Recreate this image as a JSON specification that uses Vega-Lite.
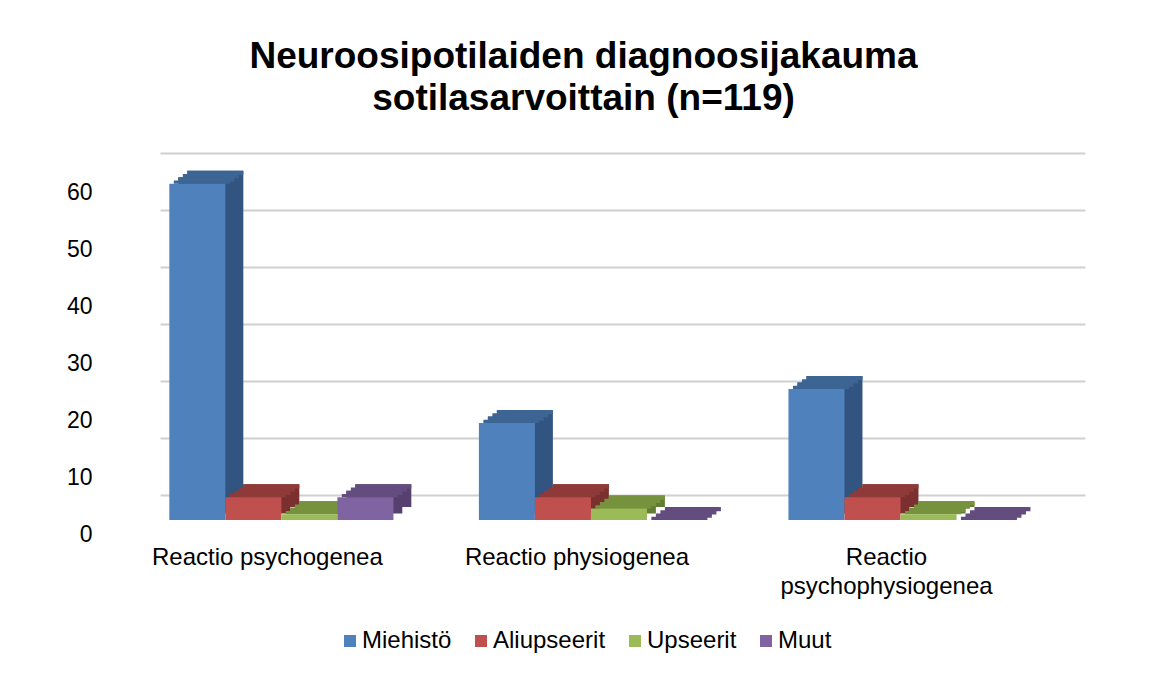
{
  "$schema": "https://vega.github.io/schema/vega-lite/v6.json",
  "width": 925,
  "height": 342,
  "autosize": {"type": "none"},
  "padding": {"left": 160, "top": 153, "right": 64, "bottom": 180},
  "background": "white",
  "title": {
    "text": ["Neuroosipotilaiden diagnoosijakauma", "sotilasarvoittain (n=119)"],
    "fontSize": 37,
    "font": "Liberation Sans",
    "fontWeight": "bold",
    "color": "#000000",
    "lineHeight": 42,
    "anchor": "middle",
    "dx": -39,
    "offset": 35
  },
  "data": {
    "values": [
      {"diagnoosi": "Reactio psychogenea", "arvo": "Miehistö", "lukumaara": 59},
      {"diagnoosi": "Reactio psychogenea", "arvo": "Aliupseerit", "lukumaara": 4},
      {"diagnoosi": "Reactio psychogenea", "arvo": "Upseerit", "lukumaara": 1},
      {"diagnoosi": "Reactio psychogenea", "arvo": "Muut", "lukumaara": 4},
      {"diagnoosi": "Reactio physiogenea", "arvo": "Miehistö", "lukumaara": 17},
      {"diagnoosi": "Reactio physiogenea", "arvo": "Aliupseerit", "lukumaara": 4},
      {"diagnoosi": "Reactio physiogenea", "arvo": "Upseerit", "lukumaara": 2},
      {"diagnoosi": "Reactio physiogenea", "arvo": "Muut", "lukumaara": 0},
      {"diagnoosi": "Reactio psychophysiogenea", "arvo": "Miehistö", "lukumaara": 23},
      {"diagnoosi": "Reactio psychophysiogenea", "arvo": "Aliupseerit", "lukumaara": 4},
      {"diagnoosi": "Reactio psychophysiogenea", "arvo": "Upseerit", "lukumaara": 1},
      {"diagnoosi": "Reactio psychophysiogenea", "arvo": "Muut", "lukumaara": 0}
    ]
  },
  "encoding": {
    "x": {
      "field": "diagnoosi",
      "type": "nominal",
      "sort": ["Reactio psychogenea", "Reactio physiogenea", "Reactio psychophysiogenea"],
      "scale": {"paddingInner": 0.276, "paddingOuter": 0.132, "align": 0.114},
      "axis": {
        "title": null,
        "domain": false,
        "ticks": false,
        "labelAngle": 0,
        "labelPadding": 50,
        "labelOffset": -14,
        "labelFontSize": 24,
        "labelLineHeight": 29,
        "labelLimit": 500,
        "labelColor": "#000000",
        "labelFont": "Liberation Sans",
        "labelExpr": "length(datum.label) > 20 ? split(datum.label, ' ') : datum.label"
      }
    },
    "y": {
      "field": "lukumaara",
      "type": "quantitative",
      "stack": null,
      "scale": {"domain": [0, 60], "nice": false},
      "axis": {
        "title": null,
        "domain": false,
        "ticks": false,
        "values": [0, 10, 20, 30, 40, 50, 60],
        "grid": true,
        "gridColor": "#D0D0D0",
        "gridWidth": 2,
        "labelPadding": 68,
        "labelOffset": 39,
        "labelFontSize": 23,
        "labelColor": "#000000",
        "labelFont": "Liberation Sans"
      }
    }
  },
  "layer": [
    {
      "mark": {"type": "bar", "yOffset": 18.5, "y2Offset": 18.5},
      "encoding": {
        "y2": {"datum": 0},
        "xOffset": {"field": "arvo", "type": "nominal", "sort": ["Miehistö", "Aliupseerit", "Upseerit", "Muut"], "scale": {"range": [9, 233]}},
        "color": {"field": "arvo", "type": "nominal", "scale": {"domain": ["Miehistö", "Aliupseerit", "Upseerit", "Muut"], "range": ["#325480", "#7B2F2E", "#637C33", "#56406F"]}, "legend": null}
      }
    },
    {
      "mark": {"type": "bar", "yOffset": 12, "y2Offset": 12},
      "encoding": {
        "y2": {"datum": 0},
        "xOffset": {"field": "arvo", "type": "nominal", "sort": ["Miehistö", "Aliupseerit", "Upseerit", "Muut"], "scale": {"range": [18, 242]}},
        "color": {"field": "arvo", "type": "nominal", "scale": {"domain": ["Miehistö", "Aliupseerit", "Upseerit", "Muut"], "range": ["#325480", "#7B2F2E", "#637C33", "#56406F"]}, "legend": null}
      }
    },
    {
      "mark": {"type": "bar", "yOffset": 12, "y2Offset": 16.25},
      "encoding": {
        "y2": {"field": "lukumaara"},
        "xOffset": {"field": "arvo", "type": "nominal", "sort": ["Miehistö", "Aliupseerit", "Upseerit", "Muut"], "scale": {"range": [18, 242]}},
        "color": {"field": "arvo", "type": "nominal", "scale": {"domain": ["Miehistö", "Aliupseerit", "Upseerit", "Muut"], "range": ["#3D6594", "#8E3A39", "#76923C", "#634C7E"]}, "legend": null}
      }
    },
    {
      "mark": {"type": "bar", "yOffset": 15.25, "y2Offset": 19.5},
      "encoding": {
        "y2": {"field": "lukumaara"},
        "xOffset": {"field": "arvo", "type": "nominal", "sort": ["Miehistö", "Aliupseerit", "Upseerit", "Muut"], "scale": {"range": [13.5, 237.5]}},
        "color": {"field": "arvo", "type": "nominal", "scale": {"domain": ["Miehistö", "Aliupseerit", "Upseerit", "Muut"], "range": ["#3D6594", "#8E3A39", "#76923C", "#634C7E"]}, "legend": null}
      }
    },
    {
      "mark": {"type": "bar", "yOffset": 18.5, "y2Offset": 22.75},
      "encoding": {
        "y2": {"field": "lukumaara"},
        "xOffset": {"field": "arvo", "type": "nominal", "sort": ["Miehistö", "Aliupseerit", "Upseerit", "Muut"], "scale": {"range": [9, 233]}},
        "color": {"field": "arvo", "type": "nominal", "scale": {"domain": ["Miehistö", "Aliupseerit", "Upseerit", "Muut"], "range": ["#3D6594", "#8E3A39", "#76923C", "#634C7E"]}, "legend": null}
      }
    },
    {
      "mark": {"type": "bar", "yOffset": 21.75, "y2Offset": 25},
      "encoding": {
        "y2": {"field": "lukumaara"},
        "xOffset": {"field": "arvo", "type": "nominal", "sort": ["Miehistö", "Aliupseerit", "Upseerit", "Muut"], "scale": {"range": [4.5, 228.5]}},
        "color": {"field": "arvo", "type": "nominal", "scale": {"domain": ["Miehistö", "Aliupseerit", "Upseerit", "Muut"], "range": ["#3D6594", "#8E3A39", "#76923C", "#634C7E"]}, "legend": null}
      }
    },
    {
      "mark": {"type": "bar", "yOffset": 25, "y2Offset": 25},
      "encoding": {
        "y2": {"datum": 0},
        "xOffset": {"field": "arvo", "type": "nominal", "sort": ["Miehistö", "Aliupseerit", "Upseerit", "Muut"]},
        "color": {
          "field": "arvo",
          "type": "nominal",
          "scale": {"domain": ["Miehistö", "Aliupseerit", "Upseerit", "Muut"], "range": ["#4F81BD", "#C0504D", "#9BBB59", "#8064A2"]},
          "legend": {
            "title": null,
            "orient": "none",
            "legendX": 178,
            "legendY": 476,
            "direction": "horizontal",
            "symbolType": "square",
            "symbolSize": 144,
            "symbolStrokeWidth": 0,
            "labelFontSize": 24,
            "labelFont": "Liberation Sans",
            "labelColor": "#000000",
            "labelOffset": 0,
            "columnPadding": 17
          }
        }
      }
    }
  ],
  "resolve": {"scale": {"xOffset": "independent", "color": "independent"}},
  "config": {
    "view": {"stroke": null},
    "font": "Liberation Sans"
  }
}
